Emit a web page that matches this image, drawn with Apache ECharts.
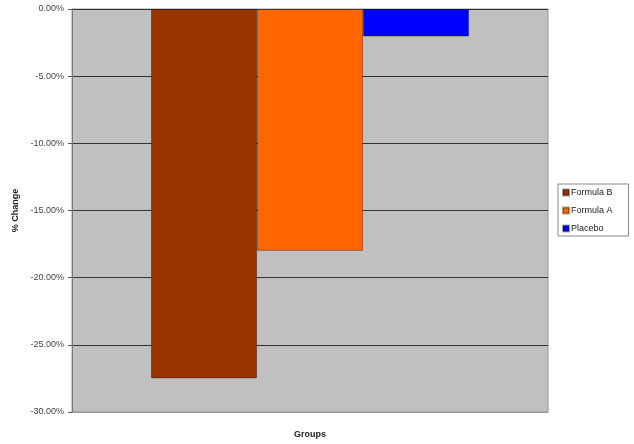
<!DOCTYPE html>
<html>
<head>
<meta charset="utf-8">
<script src="https://cdn.jsdelivr.net/npm/echarts@6/dist/echarts.min.js"></script>
<style>
  html, body { margin: 0; padding: 0; background: #fff; }
  #chart { width: 634px; height: 444px; }
</style>
</head>
<body>
<div id="chart"></div>
<script>
const groups = ['Formula B', 'Formula A', 'Placebo']
const changes = [-27.5, -18.0, -2.05]
const colors = ['#993300', '#ff6600', '#0000ff']

const chart = echarts.init(document.getElementById('chart'))

chart.setOption({
  animation: false,
  textStyle: { fontFamily: 'Liberation Sans, Arial, sans-serif' },
  grid: {
    left: 72, top: 9, right: 86, bottom: 29,
    show: true, backgroundColor: '#c0c0c0', borderColor: '#9a9a9a', borderWidth: 1
  },
  legend: {
    orient: 'vertical',
    left: 558, top: 184,
    padding: [4, 16, 3, 4],
    itemWidth: 6, itemHeight: 6, itemGap: 9,
    borderColor: '#888', borderWidth: 1,
    icon: 'rect',
    textStyle: { fontSize: 9, color: '#222', padding: [0, 0, 0, -3] },
    data: groups
  },
  xAxis: {
    type: 'category',
    data: [''],
    name: 'Groups',
    nameLocation: 'middle',
    nameGap: 18,
    nameTextStyle: { fontSize: 9, fontWeight: 'bold', color: '#222' },
    axisLine: { onZero: false, lineStyle: { color: '#9a9a9a' } },
    axisTick: { show: false },
    axisLabel: { show: false }
  },
  yAxis: {
    type: 'value',
    min: -30, max: 0, interval: 5,
    name: '% Change',
    nameLocation: 'middle',
    nameGap: 52,
    nameTextStyle: { fontSize: 9, fontWeight: 'bold', color: '#222' },
    axisLine: { show: true, lineStyle: { color: '#777' } },
    axisTick: { show: true, length: 4, lineStyle: { color: '#555' } },
    axisLabel: {
      fontSize: 9, color: '#444', margin: 8,
      formatter: v => v.toFixed(2) + '%'
    },
    splitLine: { lineStyle: { color: '#333', width: 1 } }
  },
  series: groups.map((g, i) => ({
    name: g,
    type: 'bar',
    data: [changes[i]],
    barWidth: 106,
    barGap: '0%',
    itemStyle: { color: colors[i], borderColor: 'rgba(0,0,0,0.35)', borderWidth: 1 }
  }))
})
</script>
</body>
</html>
